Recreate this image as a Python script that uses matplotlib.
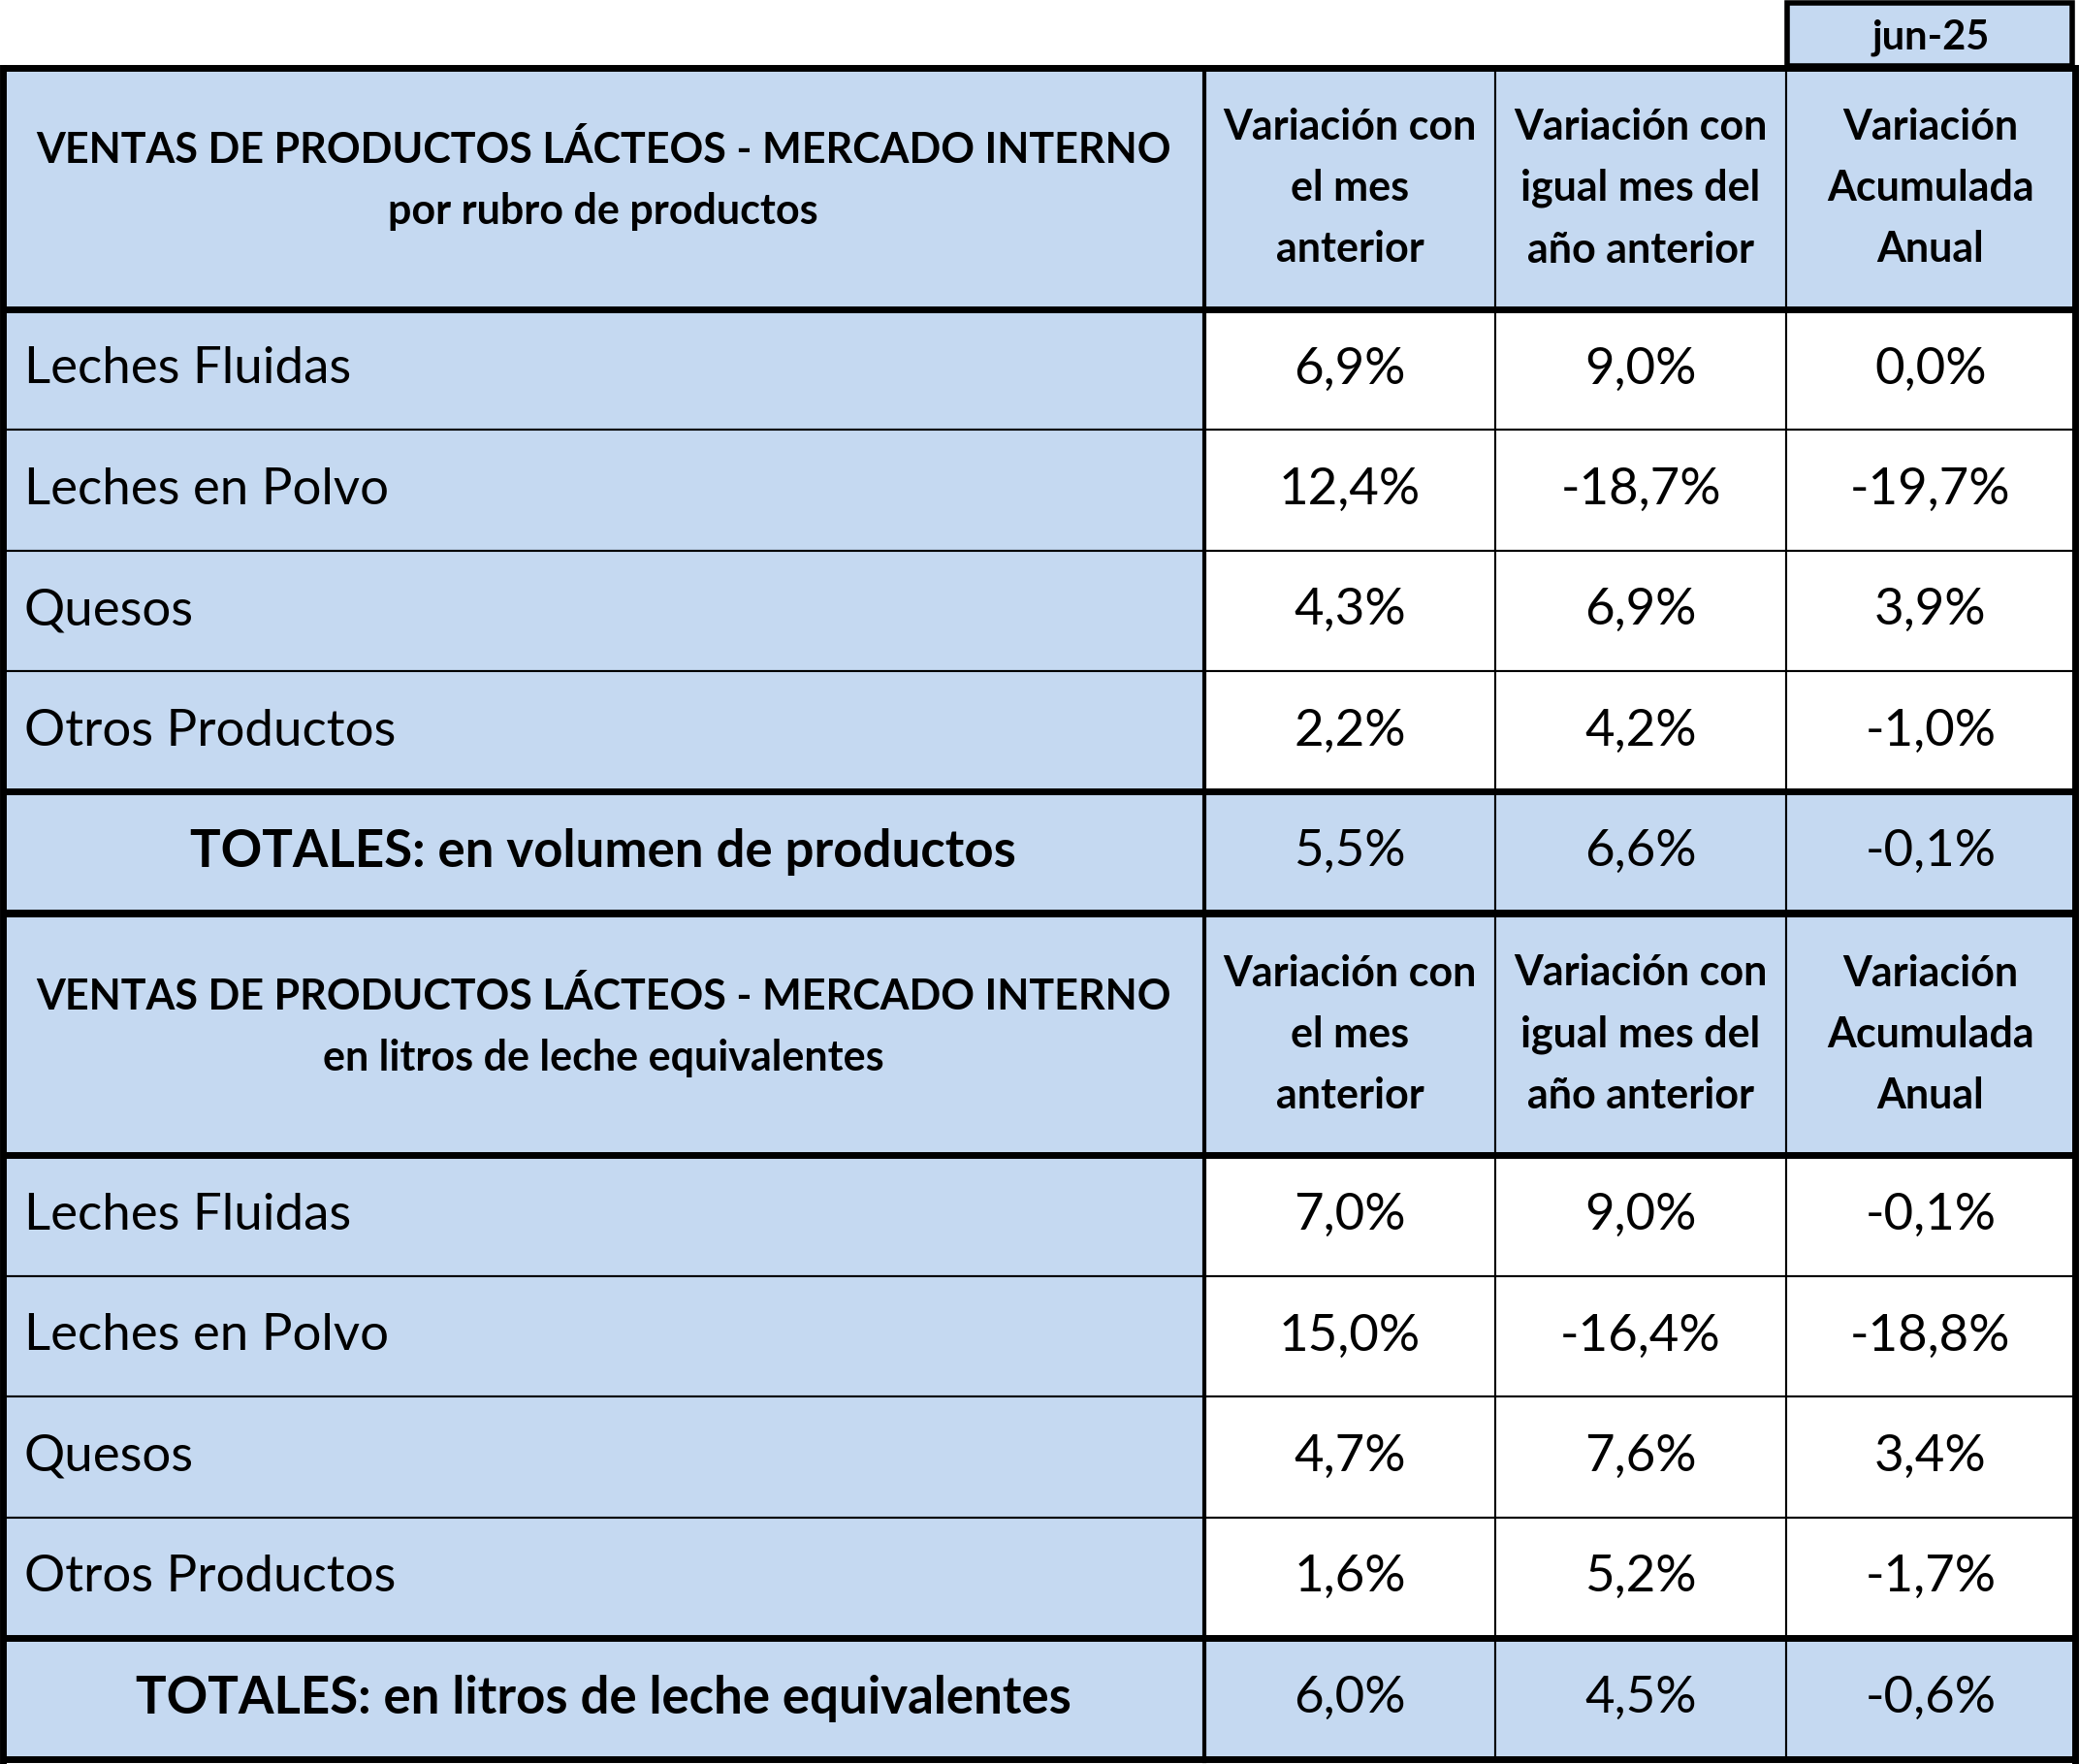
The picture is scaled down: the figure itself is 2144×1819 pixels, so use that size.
import matplotlib.pyplot as plt
from matplotlib.patches import Rectangle

plt.rcParams['font.family'] = ['Lato', 'DejaVu Sans']

BLUE = '#C5D9F1'
periodo = 'jun-25'
col_heads = ['Variación con\nel mes\nanterior', 'Variación con\nigual mes del\naño anterior', 'Variación\nAcumulada\nAnual']
rubros = ['Leches Fluidas', 'Leches en Polvo', 'Quesos', 'Otros Productos']

titulo1 = 'VENTAS DE PRODUCTOS LÁCTEOS - MERCADO INTERNO\npor rubro de productos'
vol_mes = ['6,9%', '12,4%', '4,3%', '2,2%']
vol_anio = ['9,0%', '-18,7%', '6,9%', '4,2%']
vol_acum = ['0,0%', '-19,7%', '3,9%', '-1,0%']
total1 = ['TOTALES: en volumen de productos', '5,5%', '6,6%', '-0,1%']

titulo2 = 'VENTAS DE PRODUCTOS LÁCTEOS - MERCADO INTERNO\nen litros de leche equivalentes'
lit_mes = ['7,0%', '15,0%', '4,7%', '1,6%']
lit_anio = ['9,0%', '-16,4%', '7,6%', '5,2%']
lit_acum = ['-0,1%', '-18,8%', '3,4%', '-1,7%']
total2 = ['TOTALES: en litros de leche equivalentes', '6,0%', '4,5%', '-0,6%']

W, H = 1568, 1330
fig = plt.figure(figsize=(21.44, 18.19), dpi=100)
ax = fig.add_axes([0, 0, 1, 1])
ax.set_xlim(0, W)
ax.set_ylim(H, 0)
ax.axis('off')

xs = [2, 908, 1128, 1347, 1565]

def cell(x0, x1, y0, y1, fill):
    ax.add_patch(Rectangle((x0, y0), x1 - x0, y1 - y0, facecolor=fill, edgecolor='black', lw=1.5))

def block(y0, titulo, a, b, c, tot):
    ys = [y0, y0 + 182, y0 + 273, y0 + 364, y0 + 455, y0 + 546, y0 + 637]
    cell(xs[0], xs[1], ys[0], ys[1], BLUE)
    ax.text((xs[0] + xs[1]) / 2, (ys[0] + ys[1]) / 2 - 6, titulo, ha='center', va='center',
            fontsize=31, fontweight='bold', linespacing=1.7)
    for j in range(3):
        cell(xs[j + 1], xs[j + 2], ys[0], ys[1], BLUE)
        ax.text((xs[j + 1] + xs[j + 2]) / 2, (ys[0] + ys[1]) / 2, col_heads[j], ha='center',
                va='center', fontsize=31, fontweight='bold', linespacing=1.7)
    for i, r in enumerate(rubros):
        cell(xs[0], xs[1], ys[i + 1], ys[i + 2], BLUE)
        ym = (ys[i + 1] + ys[i + 2]) / 2
        ax.text(18, ym, r, ha='left', va='center', fontsize=38)
        for j, v in enumerate([a[i], b[i], c[i]]):
            cell(xs[j + 1], xs[j + 2], ys[i + 1], ys[i + 2], 'white')
            ax.text((xs[j + 1] + xs[j + 2]) / 2, ym, v, ha='center', va='center', fontsize=38)
    ym = (ys[5] + ys[6]) / 2
    for j in range(4):
        cell(xs[j], xs[j + 1], ys[5], ys[6], BLUE)
        ax.text((xs[j] + xs[j + 1]) / 2, ym, tot[j], ha='center', va='center', fontsize=38,
                fontweight='bold' if j == 0 else 'normal')
    for yy in [ys[0], ys[1], ys[5], ys[6]]:
        ax.plot([xs[0], xs[-1]], [yy, yy], color='black', lw=5, solid_capstyle='butt')

block(51, titulo1, vol_mes, vol_anio, vol_acum, total1)
block(689, titulo2, lit_mes, lit_anio, lit_acum, total2)
ax.plot([xs[0], xs[0]], [51, 1328], color='black', lw=5)
ax.plot([xs[-1], xs[-1]], [51, 1328], color='black', lw=5)
ax.plot([xs[1], xs[1]], [51, 1328], color='black', lw=3)

ax.add_patch(Rectangle((1348, 2), 215, 48, facecolor=BLUE, edgecolor='black', lw=4))
ax.text(1456, 28, periodo, ha='center', va='center', fontsize=30, fontweight='bold')

fig.savefig('out.png', dpi=100)
